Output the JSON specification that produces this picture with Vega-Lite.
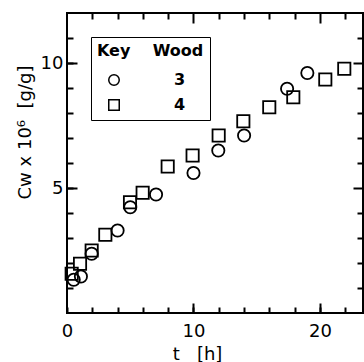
{
  "$schema": "https://vega.github.io/schema/vega-lite/v6.json",
  "width": 296,
  "height": 300,
  "autosize": {"type": "none"},
  "padding": {"left": 67, "top": 13, "right": 1, "bottom": 49},
  "background": "white",
  "config": {
    "view": {"stroke": "black", "strokeWidth": 2},
    "font": "DejaVu Sans",
    "axis": {"domain": false, "grid": false, "tickColor": "black", "tickWidth": 2, "labelColor": "black", "titleColor": "black", "titleFontWeight": "normal"}
  },
  "data": {
    "values": [
      {"t": 0.53, "cw": 1.33, "wood": "3"},
      {"t": 1.1, "cw": 1.46, "wood": "3"},
      {"t": 1.95, "cw": 2.37, "wood": "3"},
      {"t": 4.0, "cw": 3.3, "wood": "3"},
      {"t": 5.0, "cw": 4.23, "wood": "3"},
      {"t": 7.04, "cw": 4.74, "wood": "3"},
      {"t": 10.0, "cw": 5.6, "wood": "3"},
      {"t": 11.96, "cw": 6.5, "wood": "3"},
      {"t": 14.0, "cw": 7.1, "wood": "3"},
      {"t": 17.4, "cw": 8.97, "wood": "3"},
      {"t": 19.0, "cw": 9.6, "wood": "3"},
      {"t": 0.37, "cw": 1.57, "wood": "4"},
      {"t": 1.03, "cw": 1.97, "wood": "4"},
      {"t": 1.95, "cw": 2.5, "wood": "4"},
      {"t": 3.03, "cw": 3.13, "wood": "4"},
      {"t": 4.98, "cw": 4.43, "wood": "4"},
      {"t": 5.98, "cw": 4.81, "wood": "4"},
      {"t": 7.96, "cw": 5.86, "wood": "4"},
      {"t": 9.93, "cw": 6.3, "wood": "4"},
      {"t": 11.99, "cw": 7.1, "wood": "4"},
      {"t": 13.94, "cw": 7.67, "wood": "4"},
      {"t": 15.99, "cw": 8.23, "wood": "4"},
      {"t": 17.89, "cw": 8.63, "wood": "4"},
      {"t": 20.42, "cw": 9.34, "wood": "4"},
      {"t": 21.92, "cw": 9.77, "wood": "4"}
    ]
  },
  "layer": [
    {
      "mark": {"type": "point", "filled": false, "color": "black", "strokeWidth": 1.8, "size": 150, "opacity": 1},
      "encoding": {
        "x": {
          "field": "t", "type": "quantitative",
          "scale": {"domain": [0, 23.4], "nice": false, "zero": false},
          "axis": {
            "orient": "bottom",
            "offset": -6,
            "values": [0, 2, 4, 6, 8, 10, 12, 14, 16, 18, 20, 22],
            "tickSize": 6,
            "labelExpr": "datum.value % 10 === 0 ? datum.label : ''",
            "labelFontSize": 18,
            "labelPadding": 9,
            "labelFlush": false,
            "title": "t\u00a0\u00a0\u00a0[h]",
            "titleFontSize": 18,
            "titleX": 130,
            "titlePadding": 5
          }
        },
        "y": {
          "field": "cw", "type": "quantitative",
          "scale": {"domain": [0, 12], "nice": false, "zero": false},
          "axis": {
            "orient": "left",
            "offset": -6,
            "values": [1, 2, 3, 4, 5, 6, 7, 8, 9, 10, 11],
            "tickSize": 6,
            "labelExpr": "datum.value % 5 === 0 ? datum.label : ''",
            "labelFontSize": 18,
            "labelPadding": 4,
            "title": "Cᴡ x 10⁶\u00a0\u00a0[g/g]",
            "titleFontSize": 18,
            "titleAngle": -90,
            "titleX": -48,
            "titleY": 119,
            "titleAlign": "center",
            "titleBaseline": "middle"
          }
        },
        "shape": {
          "field": "wood", "type": "nominal",
          "scale": {"domain": ["3", "4"], "range": ["circle", "square"]},
          "legend": {
            "orient": "none",
            "legendX": 24,
            "legendY": 24,
            "title": "Key\u00a0\u00a0\u00a0\u00a0Wood\u00a0\u00a0\u00a0",
            "titleFontSize": 16,
            "titleFontWeight": "bold",
            "titleColor": "black",
            "titlePadding": 13,
            "labelFontSize": 16,
            "labelFontWeight": "bold",
            "labelColor": "black",
            "labelOffset": 52,
            "symbolSize": 110,
            "symbolStrokeColor": "black",
            "symbolFillColor": "transparent",
            "symbolStrokeWidth": 1.5,
            "symbolOffset": 9,
            "rowPadding": 7,
            "strokeColor": "black",
            "padding": 6
          }
        }
      }
    },
    {
      "mark": {"type": "point", "opacity": 0},
      "encoding": {
        "x": {
          "field": "t", "type": "quantitative",
          "axis": {"orient": "top", "offset": -6, "values": [2, 4, 6, 8, 12, 14, 16, 18, 22], "tickSize": 6, "labels": false, "title": null}
        },
        "y": {
          "field": "cw", "type": "quantitative",
          "axis": {"orient": "right", "offset": -6, "values": [1, 2, 3, 4, 6, 7, 8, 9, 11], "tickSize": 6, "labels": false, "title": null}
        }
      }
    },
    {
      "mark": {"type": "point", "opacity": 0},
      "encoding": {
        "x": {
          "field": "t", "type": "quantitative",
          "axis": {"orient": "bottom", "offset": -10, "values": [10, 20], "tickSize": 10, "labels": false, "title": null}
        },
        "y": {
          "field": "cw", "type": "quantitative",
          "axis": {"orient": "left", "offset": -10, "values": [5, 10], "tickSize": 10, "labels": false, "title": null}
        }
      }
    },
    {
      "mark": {"type": "point", "opacity": 0},
      "encoding": {
        "x": {
          "field": "t", "type": "quantitative",
          "axis": {"orient": "top", "offset": -10, "values": [10, 20], "tickSize": 10, "labels": false, "title": null}
        },
        "y": {
          "field": "cw", "type": "quantitative",
          "axis": {"orient": "right", "offset": -10, "values": [5, 10], "tickSize": 10, "labels": false, "title": null}
        }
      }
    }
  ],
  "resolve": {"axis": {"x": "independent", "y": "independent"}}
}
